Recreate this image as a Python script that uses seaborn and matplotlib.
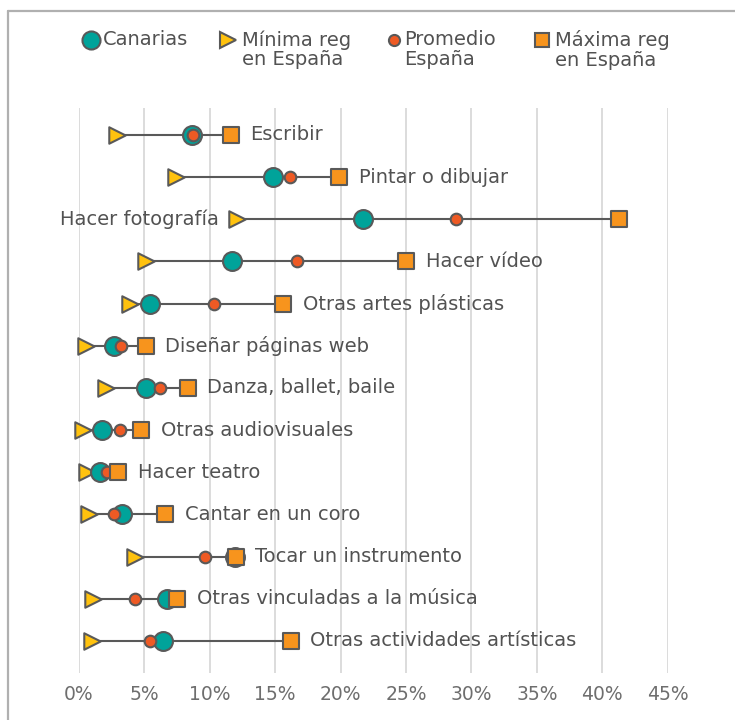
import numpy as np
import pandas as pd
import seaborn as sns
import matplotlib
matplotlib.use("Agg")
from matplotlib import pyplot as plt
from matplotlib.lines import Line2D

categories = [
    "Escribir", "Pintar o dibujar", "Hacer fotografía", "Hacer vídeo",
    "Otras artes plásticas", "Diseñar páginas web", "Danza, ballet, baile",
    "Otras audiovisuales", "Hacer teatro", "Cantar en un coro",
    "Tocar un instrumento", "Otras vinculadas a la música",
    "Otras actividades artísticas",
]
canarias = [8.6, 14.8, 21.7, 11.7, 5.4, 2.7, 5.1, 1.75, 1.6, 3.25, 11.9, 6.7, 6.4]
minima = [2.9, 7.4, 12.1, 5.1, 3.9, 0.5, 2.1, 0.3, 0.6, 0.75, 4.25, 1.05, 1.0]
promedio = [8.7, 16.1, 28.8, 16.7, 10.3, 3.2, 6.2, 3.1, 2.15, 2.7, 9.6, 4.3, 5.4]
maxima = [11.6, 19.9, 41.3, 25.0, 15.6, 5.1, 8.3, 4.75, 3.0, 6.6, 12.0, 7.5, 16.2]
label_left = ["Hacer fotografía"]
xticks = [0, 5, 10, 15, 20, 25, 30, 35, 40, 45]

legend_labels = ["Canarias", "Mínima reg\nen España", "Promedio\nEspaña", "Máxima reg\nen España"]

TEAL = "#00A39A"
YELLOW = "#FFC20E"
RED = "#EE5A24"
ORANGE = "#F7941D"
EDGE = "#595959"
TXT = "#525252"

sns.set_style("white")
plt.rcParams["font.family"] = ["DejaVu Sans"]

df = pd.DataFrame({
    "actividad": categories, "pos": np.arange(len(categories)),
    "canarias": canarias, "minima": minima, "promedio": promedio, "maxima": maxima,
})

fig = plt.figure(figsize=(7.35, 7.2), dpi=100)
ax = fig.add_axes([79 / 735, 1 - 673 / 720, (667.7 - 79) / 735, (673 - 108) / 720])

ax.hlines(df.pos, df.minima, df.maxima, color=EDGE, lw=1.5, zorder=2)

series = [
    ("minima", ">", YELLOW, 140),
    ("canarias", "o", TEAL, 185),
    ("promedio", "o", RED, 70),
    ("maxima", "s", ORANGE, 140),
]
for i, (col, mk, colr, sz) in enumerate(series):
    sns.scatterplot(data=df, x=col, y="pos", marker=mk, color=colr, s=sz,
                    edgecolor=EDGE, linewidth=1.5, ax=ax, zorder=3 + i, clip_on=False)

for _, r in df.iterrows():
    if r.actividad in label_left:
        ax.annotate(r.actividad, (r.minima, r.pos), xytext=(-13, 0), textcoords="offset points",
                    ha="right", va="center", fontsize=14, color=TXT)
    else:
        ax.annotate(r.actividad, (r.maxima, r.pos), xytext=(14, 0), textcoords="offset points",
                    ha="left", va="center", fontsize=14, color=TXT)

ax.set_xlim(0, 45)
ax.set_ylim(len(categories) - 1 + 0.76, -0.64)
ax.set_xticks(xticks)
ax.set_xticklabels([f"{t}%" for t in xticks])
ax.set_yticks([])
ax.set(xlabel="", ylabel="")
ax.grid(axis="x", color="#d9d9d9", lw=1.3)
ax.set_axisbelow(True)
ax.tick_params(axis="x", length=0, pad=9, labelsize=13.5, labelcolor="#6e6e6e")
for s in ax.spines.values():
    s.set_visible(False)

# legend drawn by hand across the top
leg_x = [90.5, 228, 394, 541.5]
leg_tx = [103, 242, 404, 555]
leg_style = [("o", TEAL, 13), (">", YELLOW, 11), ("o", RED, 8), ("s", ORANGE, 10)]
for (mk, colr, ms), lx, tx, lab in zip(leg_style, leg_x, leg_tx, legend_labels):
    fig.add_artist(Line2D([lx / 735], [1 - 40 / 720], marker=mk, markersize=ms,
                          markerfacecolor=colr, markeredgecolor=EDGE, markeredgewidth=1.5,
                          transform=fig.transFigure))
    fig.text(tx / 735, 1 - 30 / 720, lab, ha="left", va="top", fontsize=14,
             color=TXT, linespacing=1.05)

# frame: only the left and top sides fall inside the picture
fig.add_artist(Line2D([8 / 735, 8 / 735], [0, 1 - 11 / 720], color="#b0b0b0", lw=1.6,
                      transform=fig.transFigure))
fig.add_artist(Line2D([8 / 735, 1], [1 - 11 / 720, 1 - 11 / 720], color="#b0b0b0", lw=1.6,
                      transform=fig.transFigure))

fig.savefig("out.png", dpi=100)
